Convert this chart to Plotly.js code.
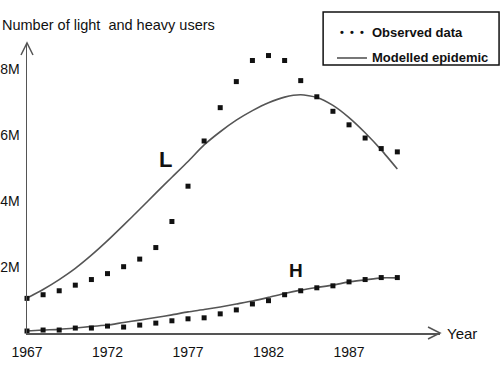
<!DOCTYPE html>
<html>
<head>
<meta charset="utf-8">
<script src="https://cdn.plot.ly/plotly-3.0.1.min.js"></script>
<style>html,body{margin:0;padding:0;background:#fff;}#chart{width:500px;height:365px;}</style>
</head>
<body>
<div id="chart"></div>
<script>
const years = [1967,1968,1969,1970,1971,1972,1973,1974,1975,1976,1977,1978,1979,1980,1981,1982,1983,1984,1985,1986,1987,1988,1989,1990];
const lightObserved = [1.05,1.16,1.28,1.45,1.62,1.80,2.01,2.24,2.59,3.38,4.45,5.82,6.83,7.62,8.26,8.41,8.26,7.65,7.16,6.72,6.31,5.91,5.59,5.49];
const heavyObserved = [0.06,0.09,0.09,0.15,0.15,0.21,0.18,0.24,0.30,0.37,0.43,0.46,0.58,0.70,0.88,0.98,1.16,1.28,1.37,1.43,1.55,1.62,1.68,1.68];
const lightModel = [1.06,1.32,1.62,1.96,2.36,2.80,3.27,3.75,4.24,4.72,5.20,5.70,6.10,6.45,6.74,6.98,7.15,7.22,7.14,6.90,6.53,6.07,5.55,4.97];
const heavyModel = [0.06,0.09,0.11,0.15,0.20,0.24,0.32,0.39,0.47,0.55,0.64,0.71,0.79,0.88,0.97,1.08,1.20,1.30,1.38,1.45,1.55,1.61,1.67,1.67];
const xTicks = [1967,1972,1977,1982,1987];
const yTicks = [2,4,6,8];
const yTickLabels = ['2M','4M','6M','8M'];

const FONT = 'Liberation Sans, Arial, sans-serif';
const markerStyle = {symbol:'square', size:5, color:'#111'};
const lineStyle = {color:'#555', width:1.6, shape:'spline', smoothing:0.6};

const traces = [
  {x:years, y:lightModel, mode:'lines', line:lineStyle, cliponaxis:false, showlegend:false, name:'Modelled epidemic'},
  {x:years, y:heavyModel, mode:'lines', line:lineStyle, cliponaxis:false, showlegend:false, name:'Modelled epidemic'},
  {x:years, y:lightObserved, mode:'markers', marker:markerStyle, cliponaxis:false, showlegend:false, name:'Observed data'},
  {x:years, y:heavyObserved, mode:'markers', marker:markerStyle, cliponaxis:false, showlegend:false, name:'Observed data'}
];

const axisColor = '#555';
const layout = {
  width:500, height:365,
  margin:{l:27, r:60, t:43, b:32, pad:0},
  paper_bgcolor:'#fff', plot_bgcolor:'#fff',
  font:{family:FONT, color:'#111'},
  showlegend:false,
  title:{text:'Number of light  and heavy users', x:0.004, xanchor:'left', xref:'container', y:0.932, yanchor:'middle', yref:'container', font:{size:14.5, family:FONT, color:'#111'}},
  xaxis:{range:[1967,1992.65], showline:true, linecolor:axisColor, linewidth:1.5, showgrid:false, zeroline:false,
         tickvals:xTicks, ticks:'', tickfont:{size:14, family:FONT, color:'#111'}, ticklabelstandoff:6, fixedrange:true},
  yaxis:{range:[0,8.79], showline:true, linecolor:axisColor, linewidth:1.5, showgrid:false, zeroline:false,
         tickvals:yTicks, ticktext:yTickLabels, ticks:'', tickfont:{size:14, family:FONT, color:'#111'}, ticklabelstandoff:3, fixedrange:true},
  shapes:[
    {type:'path', xref:'paper', yref:'paper', path:'M 0.971 0.0207 L 1 0 L 0.971 -0.0207', line:{color:axisColor, width:1.5}},
    {type:'path', xref:'paper', yref:'paper', path:'M -0.0145 0.9586 L 0 1 L 0.0145 0.9586', line:{color:axisColor, width:1.5}},
    {type:'rect', xref:'paper', yref:'paper', x0:0.717, x1:1.143, y0:0.924, y1:1.107, line:{color:'#111', width:1.5}, fillcolor:'#fff', layer:'below'},
    {type:'line', xref:'paper', yref:'paper', x0:0.7506, x1:0.8232, y0:0.9483, y1:0.9483, line:{color:'#555', width:1.6}}
  ],
  annotations:[
    {text:'Year', xref:'paper', yref:'paper', x:1.013, y:0, xanchor:'left', yanchor:'middle', showarrow:false, font:{size:15, family:FONT, color:'#111'}},
    {text:'<b>L</b>', xref:'x', yref:'y', x:1975.63, y:5.27, xanchor:'center', yanchor:'middle', showarrow:false, font:{size:22, family:FONT, color:'#111'}},
    {text:'<b>H</b>', xref:'x', yref:'y', x:1983.7, y:1.88, xanchor:'center', yanchor:'middle', showarrow:false, font:{size:19, family:FONT, color:'#111'}},
    {text:'<b>•  •  •</b>', xref:'paper', yref:'paper', x:0.7869, y:1.0379, xanchor:'center', yanchor:'middle', showarrow:false, font:{size:11, family:FONT, color:'#111'}},
    {text:'<b>Observed data</b>', xref:'paper', yref:'paper', x:0.8305, y:1.0379, xanchor:'left', yanchor:'middle', showarrow:false, font:{size:13, family:FONT, color:'#111'}},
    {text:'<b>Modelled epidemic</b>', xref:'paper', yref:'paper', x:0.8305, y:0.9483, xanchor:'left', yanchor:'middle', showarrow:false, font:{size:13, family:FONT, color:'#111'}}
  ]
};

Plotly.newPlot('chart', traces, layout, {staticPlot:true, displayModeBar:false});
</script>
</body>
</html>
